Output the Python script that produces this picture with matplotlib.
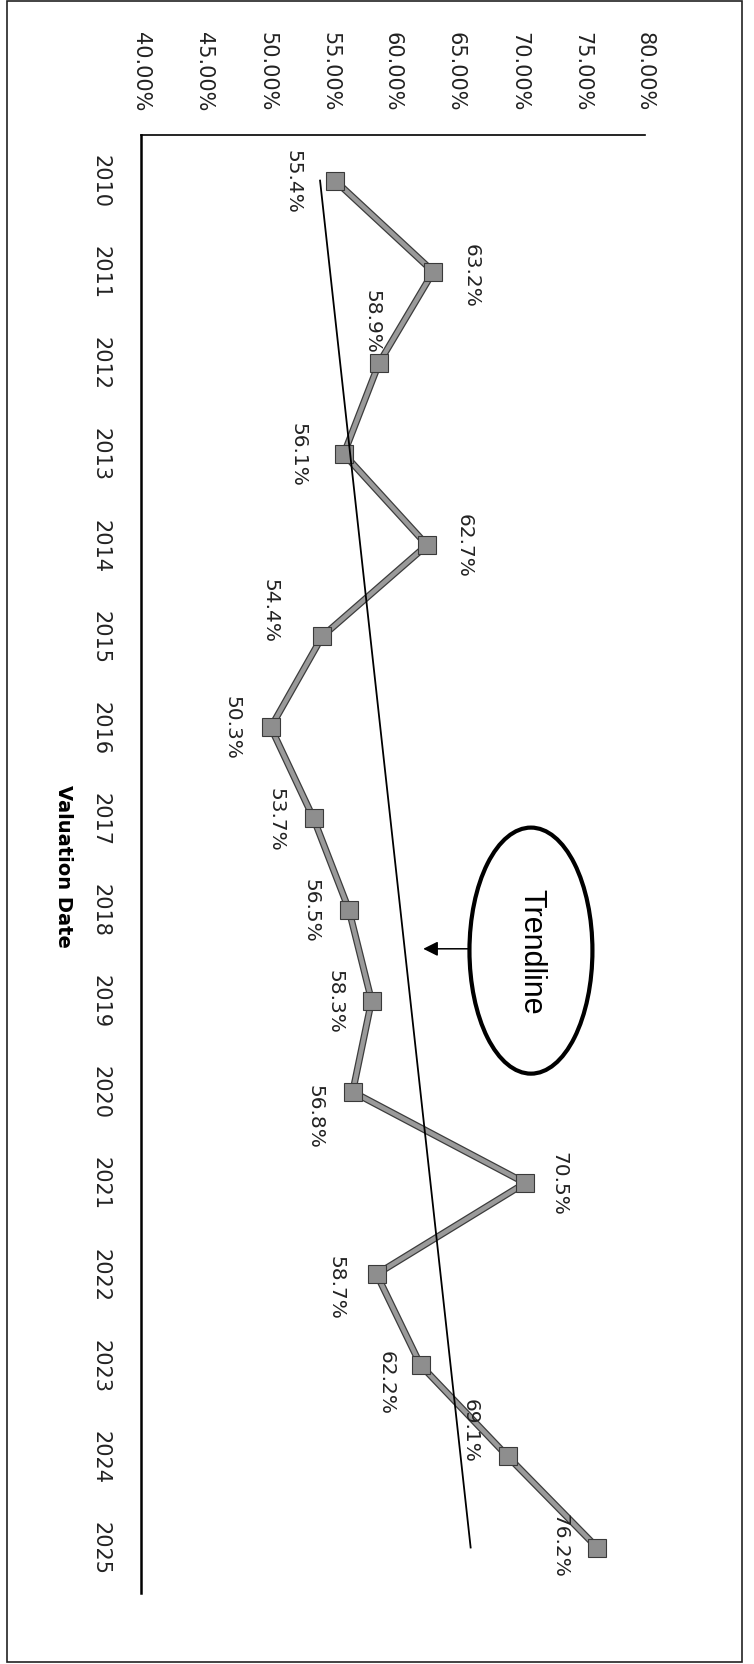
import numpy as np
import matplotlib
matplotlib.use("Agg")
import matplotlib.pyplot as plt
from matplotlib.patches import Ellipse, Rectangle
from matplotlib import patheffects as pe

# loss ratio by valuation year
years = [2010, 2011, 2012, 2013, 2014, 2015, 2016, 2017,
         2018, 2019, 2020, 2021, 2022, 2023, 2024, 2025]
ratios = [55.4, 63.2, 58.9, 56.1, 62.7, 54.4, 50.3, 53.7,
          56.5, 58.3, 56.8, 70.5, 58.7, 62.2, 69.1, 76.2]
value_ticks = [40, 45, 50, 55, 60, 65, 70, 75, 80]

# where each value label sits relative to its marker (points, x right / y up)
label_offsets = [(-30, 0), (27, -2), (-5, 30), (-33, 0), (27, 0), (-38, 19),
                 (-28, 0), (-27, 0), (-27, 0), (-26, 0), (-27, -17), (24, 0),
                 (-29, -9), (-25, -12), (-27, 19), (-27, 2)]

fig = plt.figure(figsize=(7.54, 16.65), dpi=100)
ax = fig.add_axes([0.187, 0.0426, 0.6684, 0.8757])

# the chart is laid out sideways: years run down, percentages run across
ax.plot(ratios, years, color="#9a9a9a", lw=3.2, zorder=3,
        path_effects=[pe.Stroke(linewidth=5, foreground="#3c3c3c"), pe.Normal()])
ax.plot(ratios, years, ls="none", marker="s", ms=13.5, mfc="#8e8e8e",
        mec="#3a3a3a", mew=0.8, zorder=4)

# linear trend over the whole period
coef = np.polyfit(years, ratios, 1)
tx = np.array([years[0], years[-1]])
ax.plot(np.polyval(coef, tx), tx, color="black", lw=1.3, zorder=5)

for yr, v, (dx, dy) in zip(years, ratios, label_offsets):
    ax.annotate(f"{v:.1f}%", (v, yr), xytext=(dx, dy), textcoords="offset points",
                ha="center", va="center", rotation=-90, fontsize=14.5,
                color="#222222", zorder=6)

# call-out for the trend line
ax.add_patch(Ellipse((70.95, 2018.45), 9.76, 2.70, fill=False, lw=3,
                     ec="black", zorder=6))
ax.text(70.95, 2018.45, "Trendline", rotation=-90, ha="center", va="center",
        fontsize=22, family="Liberation Sans", zorder=7)
ax.annotate("", xy=(62.4, 2018.43), xytext=(66.1, 2018.43),
            arrowprops=dict(arrowstyle="-|>", color="black", lw=1.1,
                            mutation_scale=22, shrinkA=0, shrinkB=0), zorder=7)

ax.set_xlim(40, 80)
ax.set_ylim(2025.5, 2009.5)
ax.xaxis.tick_top()
ax.set_xticks(value_ticks)
ax.set_xticklabels([f"{t:.2f}%" for t in value_ticks], rotation=-90,
                   fontsize=15, color="#222222")
ax.set_yticks(years)
ax.set_yticklabels([str(y) for y in years], rotation=-90, va="center",
                   fontsize=15, color="#222222")
ax.tick_params(axis="x", length=0, pad=18)
ax.tick_params(axis="y", length=0, pad=22)

for side in ("right", "bottom"):
    ax.spines[side].set_visible(False)
ax.spines["top"].set_linewidth(1.2)
ax.spines["left"].set_linewidth(1.8)

fig.text(63 / 754, 1 - 866 / 1665, "Valuation Date", rotation=-90,
         ha="center", va="center", fontsize=14, fontweight="bold")

# page frame
fig.add_artist(Rectangle((7 / 754, 1 - 1663 / 1665), 735 / 754, 1661 / 1665,
                         transform=fig.transFigure, fill=False, lw=1.2,
                         ec="#222222"))

fig.savefig("out.png", dpi=100)
